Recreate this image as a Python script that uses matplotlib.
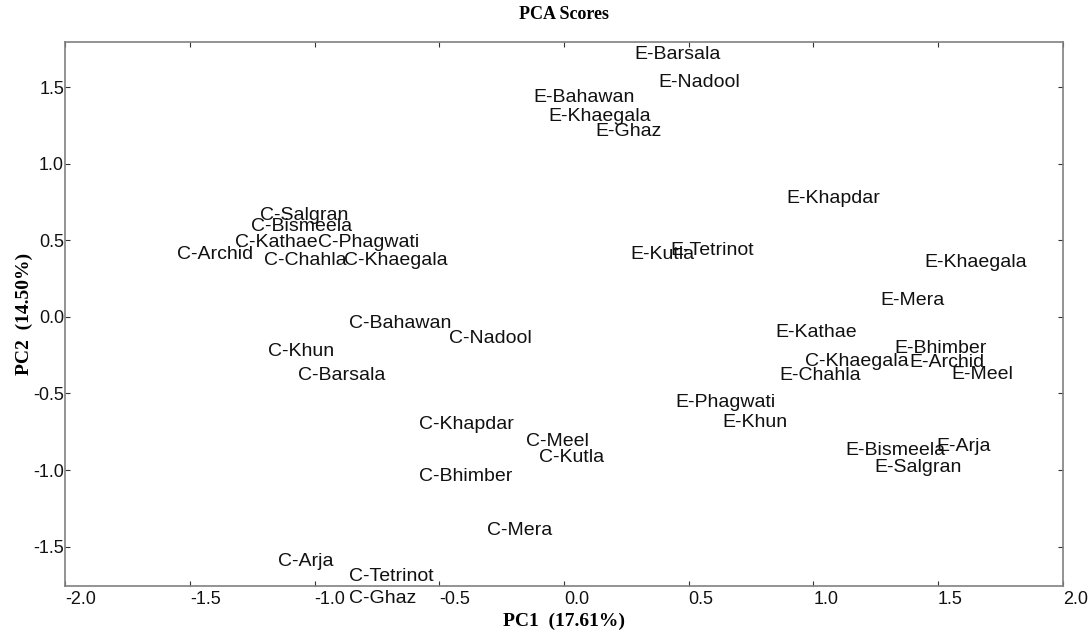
import matplotlib
matplotlib.use("Agg")
import matplotlib.pyplot as plt

# sample names and their score positions (label anchor: left / baseline)
c_names = ["C-Salgran", "C-Bismeela", "C-Kathae", "C-Phagwati", "C-Archid",
           "C-Chahla", "C-Khaegala", "C-Bahawan", "C-Nadool", "C-Khun",
           "C-Barsala", "C-Khapdar", "C-Meel", "C-Kutla", "C-Bhimber",
           "C-Mera", "C-Arja", "C-Tetrinot", "C-Ghaz", "C-Khaegala"]
c_pc1 = [-1.219, -1.257, -1.320, -0.986, -1.551, -1.203, -0.881, -0.861,
         -0.461, -1.189, -1.066, -0.580, -0.152, -0.101, -0.580, -0.308,
         -1.148, -0.861, -0.861, 0.967]
c_pc2 = [0.634, 0.562, 0.455, 0.459, 0.377, 0.340, 0.340, -0.074, -0.170,
         -0.253, -0.411, -0.734, -0.843, -0.945, -1.071, -1.424, -1.624,
         -1.724, -1.870, -0.318]

e_names = ["E-Barsala", "E-Nadool", "E-Bahawan", "E-Khaegala", "E-Ghaz",
           "E-Kutla", "E-Tetrinot", "E-Khapdar", "E-Khaegala", "E-Mera",
           "E-Kathae", "E-Bhimber", "E-Archid", "E-Chahla", "E-Meel",
           "E-Phagwati", "E-Khun", "E-Bismeela", "E-Arja", "E-Salgran"]
e_pc1 = [0.281, 0.378, -0.123, -0.061, 0.127, 0.265, 0.425, 0.890, 1.445,
         1.270, 0.849, 1.324, 1.384, 0.862, 1.552, 0.448, 0.637, 1.127,
         1.495, 1.243]
e_pc2 = [1.685, 1.504, 1.402, 1.280, 1.184, 0.379, 0.405, 0.747, 0.325,
         0.078, -0.129, -0.237, -0.325, -0.411, -0.405, -0.586, -0.717,
         -0.901, -0.873, -1.014]

x_ticks = [-2.0, -1.5, -1.0, -0.5, 0.0, 0.5, 1.0, 1.5, 2.0]
y_ticks = [-1.5, -1.0, -0.5, 0.0, 0.5, 1.0, 1.5]

SANS = "Liberation Sans"
SERIF = "Liberation Serif"

fig = plt.figure(figsize=(10.92, 6.32), dpi=100)
ax = fig.add_axes([0.0599, 0.0733, 0.9132, 0.8602])

for names, xs, ys in [(c_names, c_pc1, c_pc2), (e_names, e_pc1, e_pc2)]:
    for name, x, y in zip(names, xs, ys):
        ax.text(x, y, name, fontsize=14, family=SANS, color="#111111",
                ha="left", va="baseline", clip_on=False)

ax.set_xlim(-2.0, 2.0)
ax.set_ylim(-1.755, 1.795)
ax.set_xticks(x_ticks)
ax.set_yticks(y_ticks)
ax.set_xticklabels([f"{t:.1f}" for t in x_ticks])
ax.set_yticklabels([f"{t:.1f}" for t in y_ticks])

for lab in ax.get_xticklabels():
    lab.set_horizontalalignment("left")
    lab.set_family(SANS)
for lab in ax.get_yticklabels():
    lab.set_family(SANS)

ax.tick_params(direction="in", length=3.5, width=0.8, color="#333333",
               labelsize=13, top=True, right=True, labelcolor="#111111")
ax.tick_params(axis="x", pad=4)
ax.tick_params(axis="y", pad=1)

for sp in ax.spines.values():
    sp.set_color("#808080")
    sp.set_linewidth(1.2)

# title sits just above the frame
ax.text(0.5, 1.05, "PCA Scores", transform=ax.transAxes, fontsize=13,
        fontweight="bold", family=SERIF, ha="center", va="center")
ax.set_xlabel("PC1  (17.61%)", fontsize=14, fontweight="bold", family=SERIF)
ax.xaxis.set_label_coords(0.5, -0.065)
ax.xaxis.label.set_va("center")
ax.set_ylabel("PC2  (14.50%)", fontsize=14, fontweight="bold", family=SERIF)
ax.yaxis.set_label_coords(-0.041, 0.5)
ax.yaxis.label.set_va("center")

fig.savefig("out.png", dpi=100)
